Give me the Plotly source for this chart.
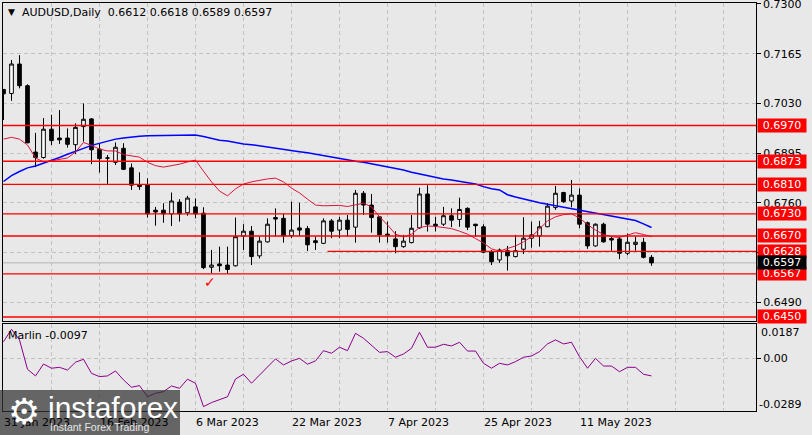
import plotly.graph_objects as go

W, H = 812, 435

# ---------------- data ----------------
opens = [0.7068, 0.7057, 0.7137, 0.7078, 0.6898, 0.6883, 0.6960, 0.6936, 0.6936, 0.6918,
         0.6967, 0.6988, 0.6906, 0.6881, 0.6870, 0.6908, 0.6855, 0.6804, 0.6809, 0.6740,
         0.6740, 0.6730, 0.6762, 0.6733, 0.6749, 0.6732, 0.6585, 0.6594, 0.6591, 0.6589,
         0.6670, 0.6683, 0.6616, 0.6654, 0.6720, 0.6718, 0.6671, 0.6692, 0.6690, 0.6657,
         0.6650, 0.6711, 0.6686, 0.6713, 0.6694, 0.6786, 0.6754, 0.6722, 0.6675, 0.6662,
         0.6641, 0.6652, 0.6692, 0.6784, 0.6702, 0.6702, 0.6725, 0.6715, 0.6745, 0.6702,
         0.6695, 0.6627, 0.6605, 0.6630, 0.6614, 0.6634, 0.6664, 0.6670, 0.6695, 0.6747,
         0.6788, 0.6765, 0.6781, 0.6706, 0.6643, 0.6702, 0.6663, 0.6662, 0.6623, 0.6647,
         0.6653, 0.6612]
highs = [0.7069, 0.7148, 0.7161, 0.7082, 0.6950, 0.6990, 0.6999, 0.7012, 0.6962, 0.6976,
         0.7030, 0.6990, 0.6920, 0.6890, 0.6924, 0.6922, 0.6867, 0.6843, 0.6827, 0.6749,
         0.6759, 0.6788, 0.6770, 0.6779, 0.6772, 0.6748, 0.6632, 0.6641, 0.6641, 0.6720,
         0.6702, 0.6697, 0.6668, 0.6718, 0.6745, 0.6730, 0.6763, 0.6760, 0.6697, 0.6668,
         0.6718, 0.6716, 0.6722, 0.6727, 0.6795, 0.6792, 0.6784, 0.6722, 0.6709, 0.6683,
         0.6673, 0.6727, 0.6801, 0.6808, 0.6722, 0.6749, 0.6745, 0.6774, 0.6748, 0.6703,
         0.6702, 0.6632, 0.6636, 0.6643, 0.6673, 0.6721, 0.6709, 0.6711, 0.6759, 0.6806,
         0.6790, 0.6822, 0.6799, 0.6709, 0.6704, 0.6706, 0.6668, 0.6668, 0.6677, 0.6668,
         0.6665, 0.6618]
lows = [0.6985, 0.7037, 0.7071, 0.6922, 0.6857, 0.6880, 0.6917, 0.6920, 0.6910, 0.6892,
        0.6926, 0.6865, 0.6842, 0.6811, 0.6863, 0.6849, 0.6795, 0.6795, 0.6720, 0.6698,
        0.6706, 0.6697, 0.6709, 0.6725, 0.6718, 0.6580, 0.6569, 0.6573, 0.6567, 0.6587,
        0.6632, 0.6591, 0.6609, 0.6652, 0.6668, 0.6652, 0.6664, 0.6670, 0.6629, 0.6632,
        0.6648, 0.6664, 0.6664, 0.6668, 0.6652, 0.6727, 0.6679, 0.6652, 0.6652, 0.6623,
        0.6638, 0.6650, 0.6690, 0.6682, 0.6682, 0.6697, 0.6694, 0.6695, 0.6686, 0.6668,
        0.6623, 0.6591, 0.6597, 0.6576, 0.6612, 0.6621, 0.6638, 0.6641, 0.6694, 0.6741,
        0.6760, 0.6748, 0.6691, 0.6635, 0.6641, 0.6652, 0.6630, 0.6607, 0.6618, 0.6630,
        0.6609, 0.6589]
closes = [0.7056, 0.7137, 0.7078, 0.6923, 0.6883, 0.6960, 0.6929, 0.6931, 0.6919, 0.6965,
          0.6987, 0.6904, 0.6880, 0.6882, 0.6911, 0.6851, 0.6808, 0.6809, 0.6730, 0.6735,
          0.6730, 0.6765, 0.6730, 0.6773, 0.6730, 0.6584, 0.6591, 0.6589, 0.6579, 0.6668,
          0.6683, 0.6614, 0.6656, 0.6702, 0.6716, 0.6670, 0.6686, 0.6686, 0.6646, 0.6652,
          0.6711, 0.6683, 0.6713, 0.6688, 0.6786, 0.6754, 0.6720, 0.6673, 0.6671, 0.6641,
          0.6656, 0.6691, 0.6784, 0.6702, 0.6698, 0.6725, 0.6713, 0.6742, 0.6694, 0.6698,
          0.6626, 0.6600, 0.6632, 0.6616, 0.6630, 0.6664, 0.6673, 0.6695, 0.6751, 0.6786,
          0.6763, 0.6781, 0.6702, 0.6643, 0.6702, 0.6654, 0.6659, 0.6623, 0.6653, 0.6653,
          0.6612, 0.6597]
ma_red = [0.6933, 0.6938, 0.6933, 0.6917, 0.6882, 0.6871, 0.6874, 0.6878, 0.6882, 0.6898,
          0.6924, 0.6916, 0.6906, 0.6901, 0.6901, 0.6891, 0.6887, 0.6884, 0.6870, 0.6861,
          0.6857, 0.6860, 0.6865, 0.6871, 0.6876, 0.6846, 0.6817, 0.6792, 0.6779, 0.6798,
          0.6811, 0.6817, 0.6822, 0.6825, 0.6827, 0.6817, 0.6800, 0.6787, 0.6770, 0.6754,
          0.6752, 0.6752, 0.6753, 0.6750, 0.6754, 0.6759, 0.6749, 0.6722, 0.6700, 0.6675,
          0.6667, 0.6675, 0.6693, 0.6697, 0.6696, 0.6693, 0.6690, 0.6683, 0.6675, 0.6663,
          0.6651, 0.6635, 0.6629, 0.6636, 0.6643, 0.6654, 0.6668, 0.6689, 0.6711, 0.6722,
          0.6728, 0.6730, 0.6719, 0.6701, 0.6686, 0.6674, 0.6668, 0.6666, 0.6673, 0.6679,
          0.6674, 0.6668]
ma_blue = [0.6818, 0.6834, 0.6845, 0.6855, 0.6860, 0.6867, 0.6876, 0.6883, 0.6892, 0.6901,
           0.6908, 0.6916, 0.6922, 0.6927, 0.6933, 0.6936, 0.6939, 0.6941, 0.6942, 0.6942,
           0.6943, 0.6944, 0.6944, 0.6944, 0.6944, 0.6940, 0.6934, 0.6930, 0.6928, 0.6923,
           0.6920, 0.6918, 0.6915, 0.6912, 0.6910, 0.6907, 0.6903, 0.6899, 0.6896, 0.6892,
           0.6888, 0.6884, 0.6879, 0.6876, 0.6873, 0.6870, 0.6866, 0.6863, 0.6858, 0.6854,
           0.6849, 0.6843, 0.6838, 0.6834, 0.6829, 0.6825, 0.6822, 0.6819, 0.6815, 0.6811,
           0.6804, 0.6798, 0.6795, 0.6782, 0.6776, 0.6770, 0.6766, 0.6760, 0.6756, 0.6752,
           0.6749, 0.6745, 0.6741, 0.6736, 0.6732, 0.6728, 0.6725, 0.6721, 0.6716, 0.6712,
           0.6703, 0.6693]
marlin = [0.0090, 0.0158, 0.0100, -0.0061, -0.0097, -0.0032, -0.0055, -0.0050, -0.0065, -0.0022,
          -0.0006, -0.0083, -0.0101, -0.0097, -0.0070, -0.0119, -0.0159, -0.0150, -0.0211, -0.0192,
          -0.0183, -0.0152, -0.0165, -0.0115, -0.0137, -0.0265, -0.0243, -0.0225, -0.0211, -0.0114,
          -0.0088, -0.0137, -0.0092, -0.0046, -0.0004, -0.0037, -0.0015, -0.0001, -0.0033, -0.0015,
          0.0041, 0.0027, 0.0060, 0.0041, 0.0136, 0.0109, 0.0072, 0.0032, 0.0036, 0.0005,
          0.0023, 0.0054, 0.0142, 0.0060, 0.0060, 0.0076, 0.0067, 0.0087, 0.0039, 0.0039,
          -0.0028, -0.0055, -0.0028, -0.0037, -0.0019, 0.0005, 0.0012, 0.0036, 0.0078, 0.0100,
          0.0078, 0.0087, 0.0008, -0.0055, -0.0001, -0.0043, -0.0043, -0.0074, -0.0050, -0.0050,
          -0.0088, -0.0097]

date_labels = ["31 Jan 2023", "16 Feb 2023", "6 Mar 2023", "22 Mar 2023",
               "7 Apr 2023", "25 Apr 2023", "11 May 2023"]
date_label_bars = [0, 12, 24, 36, 48, 60, 72]

level_lines = [0.6970, 0.6873, 0.6810, 0.6730, 0.6670, 0.6628, 0.6567, 0.6450]
partial_level = 0.6628
partial_level_start_bar = 40.5
price_ticks = [0.7300, 0.7165, 0.7030, 0.6895, 0.6760, 0.6625, 0.6490]
last_price = 0.6597
marlin_top, marlin_bottom = 0.0187, -0.0289
marlin_last = -0.0097
check_bar, check_price = 25.8, 0.6545

symbol_title = "AUDUSD,Daily"
ohlc_title = "0.6612 0.6618 0.6589 0.6597"

bars = list(range(len(closes)))

# ---------------- layout helpers ----------------
def fx(p):
    return p / W

def fy(p):
    return 1 - p / H

FONT = "DejaVu Sans"
BG = "#e8e8e8"
GRID = "#c2c2c2"
GDASH = "4px,3px"

fig = go.Figure()

fig.add_trace(go.Candlestick(
    x=bars, open=opens, high=highs, low=lows, close=closes,
    increasing=dict(line=dict(color="black", width=1), fillcolor="white"),
    decreasing=dict(line=dict(color="black", width=1), fillcolor="black"),
    whiskerwidth=0, xaxis="x", yaxis="y", hoverinfo="skip",
))
fig.add_trace(go.Scatter(x=bars, y=ma_blue, mode="lines",
                         line=dict(color="#0000ff", width=1.5), xaxis="x", yaxis="y"))
fig.add_trace(go.Scatter(x=bars, y=ma_red, mode="lines",
                         line=dict(color="#dc143c", width=1), xaxis="x", yaxis="y"))
fig.add_trace(go.Scatter(x=bars, y=marlin, mode="lines",
                         line=dict(color="#8b008b", width=1), xaxis="x2", yaxis="y2"))

xr = [-0.0625, 94.0625]
main_dom = [fy(321), fy(3)]
marl_dom = [fy(411), fy(324)]
xdom = [fx(3), fx(756)]

axis_common = dict(showline=True, mirror=True, linecolor="black", linewidth=1,
                   zeroline=False)

fig.update_layout(
    width=W, height=H, margin=dict(l=0, r=0, t=0, b=0),
    paper_bgcolor=BG, plot_bgcolor=BG, showlegend=False,
    boxgap=0.35,
    xaxis=dict(domain=xdom, range=xr, anchor="y", tick0=0, dtick=6,
               showgrid=True, gridcolor=GRID, griddash=GDASH, gridwidth=1,
               showticklabels=False, ticks="", rangeslider=dict(visible=False),
               **axis_common),
    xaxis2=dict(domain=xdom, range=xr, anchor="y2", matches="x", tick0=0, dtick=6,
                showgrid=True, gridcolor=GRID, griddash=GDASH, gridwidth=1,
                showticklabels=False, ticks="", **axis_common),
    yaxis=dict(domain=main_dom, range=[0.64391, 0.73027], anchor="x", side="right",
               tickvals=price_ticks, ticktext=[f"{v:.4f}" for v in price_ticks],
               showgrid=True, gridcolor=GRID, griddash=GDASH, gridwidth=1,
               ticks="outside", ticklen=4, tickcolor="black",
               tickfont=dict(family=FONT, size=11, color="black"), **axis_common),
    yaxis2=dict(domain=marl_dom, range=[marlin_bottom, marlin_top], anchor="x2", side="right",
                tickvals=[0], ticktext=["0.00"],
                showgrid=True, gridcolor=GRID, griddash=GDASH, gridwidth=1,
                ticks="outside", ticklen=4, tickcolor="black",
                tickfont=dict(family=FONT, size=11, color="black"), **axis_common),
)

shapes = []
# current price line
shapes.append(dict(type="line", xref="x domain", x0=0, x1=1, yref="y", y0=last_price, y1=last_price,
                   line=dict(color="#b4b4b4", width=1), layer="below"))
for lv in level_lines:
    if lv == partial_level:
        shapes.append(dict(type="line", xref="x", x0=partial_level_start_bar, x1=xr[1],
                           yref="y", y0=lv, y1=lv, line=dict(color="#ff0000", width=1.3)))
    else:
        shapes.append(dict(type="line", xref="x domain", x0=0, x1=1, yref="y", y0=lv, y1=lv,
                           line=dict(color="#ff0000", width=1.3)))
# watermark box
shapes.append(dict(type="rect", xref="paper", yref="paper", x0=0, x1=fx(180), y0=0, y1=fy(390),
                   fillcolor="rgba(50,50,50,0.72)", line=dict(width=0), layer="above"))
fig.update_layout(shapes=shapes)

ann = []
# title
ann.append(dict(xref="paper", yref="paper", x=fx(6), y=fy(12), xanchor="left", yanchor="middle",
                text="▼", showarrow=False, font=dict(family=FONT, size=9, color="black")))
ann.append(dict(xref="paper", yref="paper", x=fx(20), y=fy(13), xanchor="left", yanchor="middle",
                text=f"{symbol_title}  {ohlc_title}", showarrow=False,
                font=dict(family=FONT, size=11, color="black")))
ann.append(dict(xref="paper", yref="paper", x=fx(6), y=fy(335), xanchor="left", yanchor="middle",
                text=f"Marlin {marlin_last:.4f}", showarrow=False,
                font=dict(family=FONT, size=11, color="black")))
# top price label (sits on the panel's top edge)
ann.append(dict(xref="paper", yref="paper", x=fx(761), y=fy(5), xanchor="left", yanchor="middle",
                text=f"{price_ticks[0]:.4f}", showarrow=False,
                font=dict(family=FONT, size=11, color="black")))
# level labels
for lv in level_lines:
    ann.append(dict(xref="paper", yref="y", x=fx(757), y=lv, xanchor="left", yanchor="middle",
                    text=f"{lv:.4f}", showarrow=False, bgcolor="#ff0000", width=48, height=13,
                    borderpad=0, align="center", font=dict(family=FONT, size=11, color="white")))
ann.append(dict(xref="paper", yref="y", x=fx(757), y=last_price, xanchor="left", yanchor="middle",
                text=f"{last_price:.4f}", showarrow=False, bgcolor="#000000", width=48, height=13,
                borderpad=0, align="center", font=dict(family=FONT, size=11, color="white")))
# marlin extreme labels
ann.append(dict(xref="paper", yref="y2", x=fx(759), y=marlin_top, yshift=-8, xanchor="left",
                yanchor="middle", text=f"{marlin_top:.4f}", showarrow=False,
                font=dict(family=FONT, size=11, color="black")))
ann.append(dict(xref="paper", yref="y2", x=fx(757), y=marlin_bottom, yshift=7, xanchor="left",
                yanchor="middle", text=f"{marlin_bottom:.4f}", showarrow=False,
                font=dict(family=FONT, size=11, color="black")))
# dates
for b, t in zip(date_label_bars, date_labels):
    ann.append(dict(xref="x2", yref="paper", x=b, y=fy(422), xanchor="left", yanchor="middle",
                    xshift=-2, text=t, showarrow=False,
                    font=dict(family=FONT, size=11, color="black")))
# check mark
ann.append(dict(xref="x", yref="y", x=check_bar, y=check_price, text="✓", showarrow=False,
                xanchor="center", yanchor="middle",
                font=dict(family=FONT, size=14, color="#ff0000")))
# watermark
ann.append(dict(xref="paper", yref="paper", x=fx(24), y=fy(411), text="⚙", showarrow=False,
                xanchor="center", yanchor="middle",
                font=dict(family=FONT, size=36, color="white")))
ann.append(dict(xref="paper", yref="paper", x=fx(46), y=fy(407), text="instaforex", showarrow=False,
                xanchor="left", yanchor="middle",
                font=dict(family="Liberation Sans", size=30, color="white")))
ann.append(dict(xref="paper", yref="paper", x=fx(48), y=fy(427), text="Instant Forex Trading",
                showarrow=False, xanchor="left", yanchor="middle",
                font=dict(family="Liberation Sans", size=10.5, color="#e6e6e6")))
fig.update_layout(annotations=ann)

fig.write_html("out.html", config={"displayModeBar": False})

# remove the browser's default page margin so the figure sits at the window's top-left
with open("out.html", "r", encoding="utf-8") as fh:
    page = fh.read()
page = page.replace("<head>", "<head><style>html,body{margin:0;padding:0;overflow:hidden;}</style>", 1)
with open("out.html", "w", encoding="utf-8") as fh:
    fh.write(page)
